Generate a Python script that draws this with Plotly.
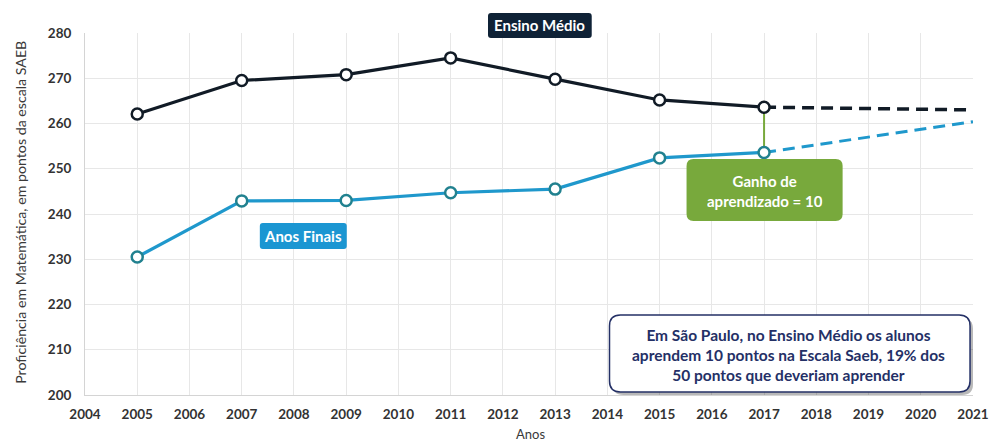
import plotly.graph_objects as go

# --- data -------------------------------------------------------------
years = [2005, 2007, 2009, 2011, 2013, 2015, 2017]
ensino_medio = [262.1, 269.5, 270.8, 274.5, 269.8, 265.2, 263.6]
anos_finais = [230.5, 242.9, 243.0, 244.7, 245.5, 252.4, 253.6]

proj_years = [2017, 2021]
ensino_medio_proj = [263.6, 263.0]
anos_finais_proj = [253.6, 260.4]

x_ticks = list(range(2004, 2022))
y_ticks = list(range(200, 281, 10))

# --- layout geometry (pixels) ----------------------------------------
W, H = 1001, 441
ML, MR, MT, MB = 85, 17, 33, 46
PW, PH = W - ML - MR, H - MT - MB

BLACK = "#111b26"
BLUE = "#1f98cc"
BLUE_EDGE = "#21818f"
GREEN = "#78a93c"
NAVY = "#243066"
FONT = "Lato"


def px(x, y):
    """pixel position -> paper coordinates"""
    return (x - ML) / PW, (H - MB - y) / PH


def rounded_rect(x0, y0, x1, y1, r):
    ax0, ay1 = px(x0, y0)
    ax1, ay0 = px(x1, y1)
    rx, ry = r / PW, r / PH
    return (f"M {ax0+rx},{ay1} L {ax1-rx},{ay1} Q {ax1},{ay1} {ax1},{ay1-ry} "
            f"L {ax1},{ay0+ry} Q {ax1},{ay0} {ax1-rx},{ay0} "
            f"L {ax0+rx},{ay0} Q {ax0},{ay0} {ax0},{ay0+ry} "
            f"L {ax0},{ay1-ry} Q {ax0},{ay1} {ax0+rx},{ay1} Z")


fig = go.Figure()

# projections
fig.add_trace(go.Scatter(x=proj_years, y=ensino_medio_proj, mode="lines",
                         line=dict(color=BLACK, width=3.5, dash="12px,7px"),
                         hoverinfo="skip", showlegend=False))
fig.add_trace(go.Scatter(x=proj_years, y=anos_finais_proj, mode="lines",
                         line=dict(color=BLUE, width=3, dash="12px,7px"),
                         hoverinfo="skip", showlegend=False))

# learning gain connector
fig.add_trace(go.Scatter(x=[years[-1], years[-1]], y=[anos_finais[-1], ensino_medio[-1]],
                         mode="lines", line=dict(color=GREEN, width=2),
                         hoverinfo="skip", showlegend=False))

# observed series
fig.add_trace(go.Scatter(x=years, y=ensino_medio, mode="lines+markers", name="Ensino Médio",
                         line=dict(color=BLACK, width=3.2),
                         marker=dict(size=11, color="white", line=dict(color=BLACK, width=2.5)),
                         showlegend=False))
fig.add_trace(go.Scatter(x=years, y=anos_finais, mode="lines+markers", name="Anos Finais",
                         line=dict(color=BLUE, width=3.2),
                         marker=dict(size=11, color="white", line=dict(color=BLUE_EDGE, width=2.5)),
                         showlegend=False))

shapes = [
    dict(type="path", xref="paper", yref="paper", layer="above",
         path=rounded_rect(493, 13, 598, 38, 3), fillcolor="#0f2236", line=dict(width=0)),
    dict(type="path", xref="paper", yref="paper", layer="above",
         path=rounded_rect(262, 223, 350, 249, 3), fillcolor="#1b96d2", line=dict(width=0)),
    dict(type="path", xref="paper", yref="paper", layer="above",
         path=rounded_rect(694, 159, 852, 221, 7), fillcolor=GREEN, line=dict(width=0)),
    dict(type="path", xref="paper", yref="paper", layer="above",
         path=rounded_rect(619, 318, 984, 395, 11), fillcolor="rgba(0,0,0,0.28)", line=dict(width=0)),
    dict(type="path", xref="paper", yref="paper", layer="above",
         path=rounded_rect(616, 315, 981, 392, 11), fillcolor="white", line=dict(color=NAVY, width=1.5)),
]


def note(x, y, text, size, color, bold=True, **kw):
    ax, ay = px(x, y)
    return dict(x=ax, y=ay, xref="paper", yref="paper", text=text, showarrow=False,
                xanchor="center", yanchor="middle",
                font=dict(family=FONT, size=size, color=color, weight="bold" if bold else "normal"),
                **kw)


annotations = [
    note(545.5, 25.5, "Ensino Médio", 15, "white"),
    note(306, 236, "Anos Finais", 15, "white"),
    note(773, 191, "Ganho de<br>aprendizado = 10", 15, "white", height=48),
    note(797, 355, "Em São Paulo, no Ensino Médio os alunos<br>"
                   "aprendem 10 pontos na Escala Saeb, 19% dos<br>"
                   "50 pontos que deveriam aprender", 15.5, NAVY, height=70),
    note(19, 212, "Proficiência em Matemática, em pontos da escala SAEB", 14.2, "#3a3a3a",
         bold=False, textangle=-90),
    note(536, 434, "Anos", 13, "#3a3a3a", bold=False),
]

fig.update_layout(
    width=W, height=H,
    margin=dict(l=ML, r=MR, t=MT, b=MB),
    paper_bgcolor="white", plot_bgcolor="white",
    shapes=shapes, annotations=annotations,
    font=dict(family=FONT, color="#333333"),
)
fig.update_xaxes(range=[2003.9999, 2021.0001], tickvals=x_ticks, ticktext=[str(v) for v in x_ticks],
                 showgrid=True, gridcolor="#e7e7e7", gridwidth=1,
                 showline=True, linecolor="#d4d4d4", zeroline=False,
                 ticks="", ticklabelstandoff=7, ticklabeloverflow="allow",
                 tickfont=dict(family=FONT, size=13.5, color="#333333", weight="bold"))
fig.update_yaxes(range=[200, 280], tickvals=y_ticks,
                 showgrid=True, gridcolor="#e7e7e7", gridwidth=1,
                 showline=True, linecolor="#d4d4d4", zeroline=False,
                 ticks="", ticklabelstandoff=10,
                 tickfont=dict(family=FONT, size=13.5, color="#333333", weight="bold"))

fig.write_html("out.html")
